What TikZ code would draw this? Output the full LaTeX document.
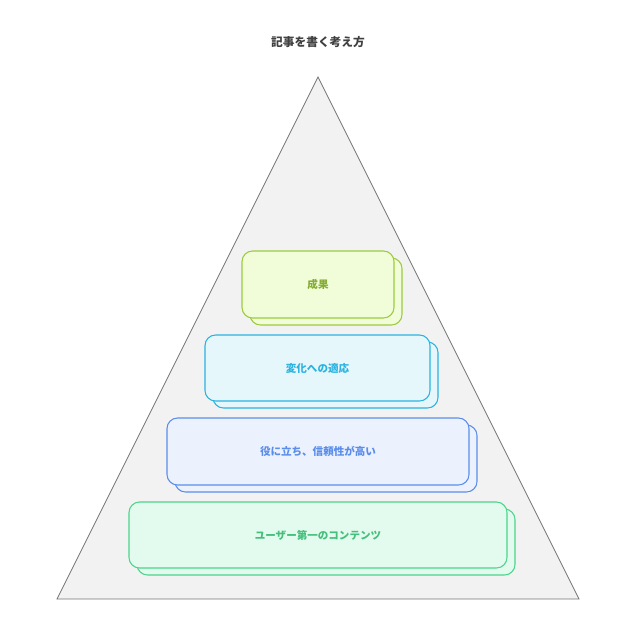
\documentclass[tikz,border=0pt]{standalone}
\usepackage{fontspec}
\newfontfamily\cjk{Noto Sans CJK JP}
\usetikzlibrary{positioning}
\definecolor{lvA}{HTML}{9CCB3E}\definecolor{lvAf}{HTML}{F1FCD8}
\definecolor{lvB}{HTML}{2AB3E0}\definecolor{lvBf}{HTML}{E6F7FC}
\definecolor{lvC}{HTML}{5B8DEB}\definecolor{lvCf}{HTML}{ECF2FD}
\definecolor{lvD}{HTML}{4CD48A}\definecolor{lvDf}{HTML}{E3FBEE}
\tikzset{
  tier/.style={draw=#1, fill=#1f, rounded corners=9pt, line width=0.9pt},
  tiertext/.style={text=#1, font=\cjk\bfseries\fontsize{9}{11}\selectfont}
}
\newcommand\tierbox[6]{%
  \fill[lvDf!0] (0,0);
  \draw[tier=#1] (#2+8,#3+7) rectangle (#4+8,#5+7);
  \draw[tier=#1] (#2,#3) rectangle (#4,#5);
}
\begin{document}
\begin{tikzpicture}[x=0.03cm,y=-0.03cm]
			\useasboundingbox (0,0) rectangle (640,638);
			\node[font=\cjk\bfseries\fontsize{10}{12}\selectfont, text=black!75] (title) at (318,42) {記事を書く考え方};
			\draw[fill=black!5, draw=black!55, line width=0.7pt] (318,77) -- (579,599) -- (57,599) -- cycle;
			\tierbox{lvA}{242}{251}{394}{318}{}
			\node[tiertext=lvA!85!black] (result) at (318,284.5) {成果};
			\tierbox{lvB}{205}{335}{430}{401}{}
			\node[tiertext=lvB] (adapt) at (317.5,368) {変化への適応};
			\tierbox{lvC}{167}{418}{469}{485}{}
			\node[tiertext=lvC] (useful) at (318,451.5) {役に立ち、信頼性が高い};
			\tierbox{lvD}{129}{502}{507}{568}{}
			\node[tiertext=lvD!90!black] (user) at (318,535) {ユーザー第一のコンテンツ};
		\end{tikzpicture}
\end{document}
